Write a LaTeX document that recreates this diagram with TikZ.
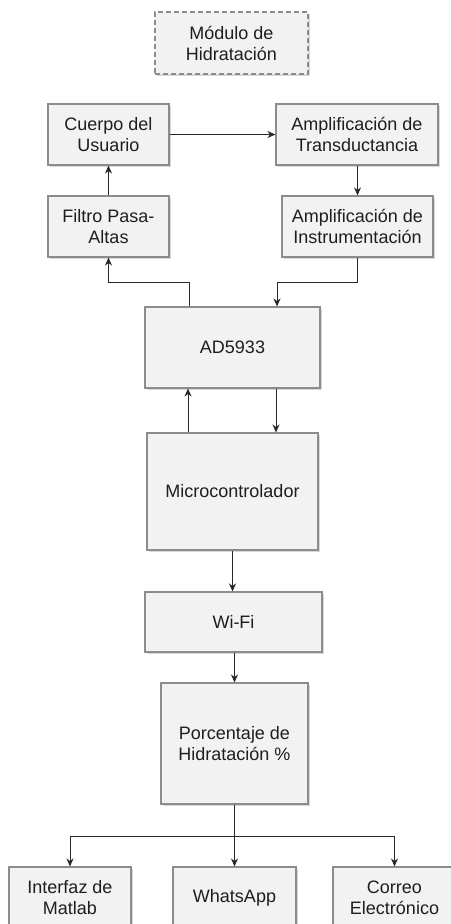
\documentclass[tikz,border=0pt]{standalone}
\usepackage{fontspec}
\setmainfont{Liberation Sans}
\usetikzlibrary{arrows.meta,shadows}
\definecolor{boxfill}{RGB}{242,242,242}
\definecolor{boxline}{RGB}{140,140,140}
\definecolor{linecol}{RGB}{40,40,40}
\definecolor{txtcol}{RGB}{30,30,30}
\begin{document}
\begin{tikzpicture}[x=1pt,y=-1pt,
  blk/.style={draw=boxline, line width=1.1pt, fill=boxfill, align=center,
    text=txtcol, font=\fontsize{18}{21}\selectfont, inner sep=0pt,
    drop shadow={shadow xshift=1.5pt, shadow yshift=-1.5pt, fill=gray!60, opacity=0.5}},
  modbox/.style={blk, dashed, dash pattern=on 5pt off 3pt},
  arr/.style={draw=linecol, line width=1pt, -{Stealth[length=8pt,width=7pt]}},
  ln/.style={draw=linecol, line width=1pt}]
\useasboundingbox (0,0) rectangle (450,924);
\fill[white] (0,0) rectangle (450,924);

\node[modbox, minimum width=153pt, minimum height=62pt] (mod) at (231.5,43) {Módulo de\\Hidratación};

\node[blk, minimum width=121pt, minimum height=61pt] (cuerpo) at (108.5,134.5) {Cuerpo del\\Usuario};
\node[blk, minimum width=162pt, minimum height=61pt] (transd) at (357,134.5) {Amplificación de\\Transductancia};
\node[blk, minimum width=121pt, minimum height=61pt] (filtro) at (108.5,226.5) {Filtro Pasa-\\Altas};
\node[blk, minimum width=151pt, minimum height=61pt] (instr) at (357.5,226.5) {Amplificación de\\Instrumentación};
\node[blk, minimum width=175pt, minimum height=81pt] (ad) at (232.5,347.5) {AD5933};
\node[blk, minimum width=171pt, minimum height=117pt] (micro) at (232.5,491.5) {Microcontrolador};
\node[blk, minimum width=177pt, minimum height=60pt] (wifi) at (233.5,622) {Wi-Fi};
\node[blk, minimum width=147pt, minimum height=121pt] (porc) at (234.5,743.5) {Porcentaje de\\Hidratación \%};
\node[blk, minimum width=122pt, minimum height=62pt] (matlab) at (70,898) {Interfaz de\\Matlab};
\node[blk, minimum width=123pt, minimum height=62pt] (whats) at (234.5,898) {WhatsApp};
\node[blk, minimum width=123pt, minimum height=62pt] (correo) at (394.5,898) {Correo\\Electrónico};

\coordinate (j1) at (189,282);
\coordinate (j2) at (277,282);
\coordinate (u) at (188,0);
\coordinate (d) at (276,0);
\coordinate (b) at (234.5,836);

\draw[arr] (cuerpo.east) -- (transd.west |- cuerpo.east);
\draw[arr] (filtro.north) -- (cuerpo.south);
\draw[arr] (transd.south -| instr.north) -- (instr.north);
\draw[arr] (ad.north -| j1) -- (j1) -| (filtro.south);
\draw[arr] (instr.south) |- (j2) -- (ad.north -| j2);
\draw[arr] (micro.north -| u) -- (ad.south -| u);
\draw[arr] (ad.south -| d) -- (micro.north -| d);
\draw[arr] (micro.south) -- (micro.south |- wifi.north);
\draw[arr] (wifi.south -| porc.north) -- (porc.north);
\draw[ln] (porc.south) -- (b);
\draw[arr] (b) -| (matlab.north);
\draw[arr] (b) -| (correo.north);
\draw[arr] (b) -- (whats.north);
\end{tikzpicture}
\end{document}
